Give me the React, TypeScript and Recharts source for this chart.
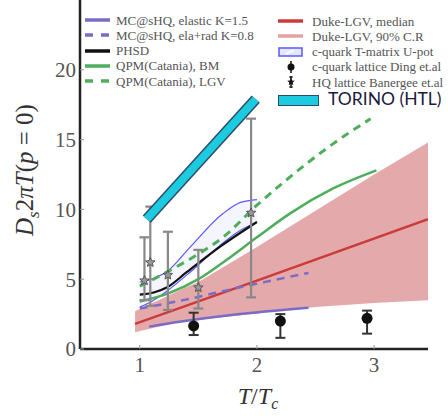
import React from 'react';
import { ComposedChart, Line, Area, Scatter, ErrorBar, XAxis, YAxis } from 'recharts';

// MC@sHQ
const elasticT = [1.08, 1.34, 1.8, 2.44];
const elasticD = [1.6, 1.95, 2.45, 2.95];
const radT = [1.0, 1.37, 1.9, 2.44];
const radD = [2.9, 3.5, 4.5, 5.45];

// PHSD
const phsdT = [1.0, 1.12, 1.23, 1.4, 1.68, 2.0];
const phsdD = [3.9, 4.05, 4.4, 5.5, 7.3, 9.1];

// QPM Catania
const bmT = [1.0, 1.25, 1.5, 1.71, 2.0, 2.28, 2.65, 3.02];
const bmD = [3.4, 4.0, 5.0, 6.2, 8.0, 9.7, 11.5, 12.8];
const lgvT = [1.0, 1.25, 1.5, 1.71, 2.0, 2.25, 2.6, 2.97];
const lgvD = [4.5, 5.6, 6.8, 8.0, 10.3, 12.1, 14.4, 16.5];

// Duke LGV
const dukeT = [0.96, 2.0, 3.46];
const dukeD = [1.8, 4.9, 9.3];
const dukeBandT = [0.96, 1.34, 1.5, 2.0, 2.5, 3.0, 3.46];
const dukeLow = [1.2, 1.95, 2.1, 2.55, 3.0, 3.3, 3.5];
const dukeHigh = [2.7, 4.2, 4.8, 7.3, 9.9, 12.5, 14.8];

// T-matrix U-pot
const tmT = [1.0, 1.1, 1.24, 1.43, 1.71, 1.86, 2.0];
const tmLow = [3.0, 3.4, 4.2, 5.5, 7.6, 8.5, 9.1];
const tmHigh = [4.8, 5.0, 5.6, 7.3, 9.7, 10.5, 10.7];

// TORINO (HTL)
const torinoT = [1.06, 1.99];
const torinoD = [9.3, 17.9];

// lattice Ding et al.
const dingT = [1.46, 2.2, 2.94];
const dingD = [1.65, 2.0, 2.2];
const dingLo = [1.0, 0.8, 1.1];
const dingHi = [2.6, 2.5, 2.75];

// lattice Banerjee et al.
const banT = [1.04, 1.09, 1.24, 1.5, 1.95];
const banD = [4.9, 6.2, 5.3, 4.4, 9.75];
const banLo = [3.5, 3.1, 2.8, 2.9, 3.7];
const banHi = [8.0, 10.2, 8.4, 7.1, 16.5];

const xTicks = [1, 2, 3];
const yTicks = [0, 5, 10, 15, 20];

const pts = (t: number[], d: number[]) => t.map((T, i) => ({ T, D: d[i] }));
const band = (t: number[], lo: number[], hi: number[]) => t.map((T, i) => ({ T, D: [lo[i], hi[i]] }));
const errPts = (t: number[], d: number[], lo: number[], hi: number[]) =>
  t.map((T, i) => ({ T, D: d[i], err: [d[i] - lo[i], hi[i] - d[i]] }));

const purple = '#7a6cc6';
const green = '#4fae5c';
const red = '#cc3b3b';
const pink = '#d98586';
const blue = '#5a5aff';

const starPath = (cx: number, cy: number, r: number) => {
  let p = '';
  for (let i = 0; i < 10; i++) {
    const a = -Math.PI / 2 + (i * Math.PI) / 5;
    const rr = i % 2 === 0 ? r : r * 0.45;
    p += (i === 0 ? 'M' : 'L') + (cx + rr * Math.cos(a)).toFixed(2) + ',' + (cy + rr * Math.sin(a)).toFixed(2);
  }
  return p + 'Z';
};

const tickStyle = { fill: '#555', fontSize: 21, fontFamily: 'Liberation Serif, serif' };

const legendText: React.CSSProperties = {
  position: 'absolute',
  fontFamily: 'Liberation Serif, serif',
  fontSize: 13,
  color: '#555',
  whiteSpace: 'nowrap',
  lineHeight: '13px',
};

function LegendSample({ kind, color }: { kind: string; color: string }) {
  return (
    <svg width={26} height={14} style={{ display: 'block' }}>
      {kind === 'solid' && <line x1={0} y1={7} x2={25} y2={7} stroke={color} strokeWidth={3.5} />}
      {kind === 'dash' && <line x1={0} y1={7} x2={25} y2={7} stroke={color} strokeWidth={3.5} strokeDasharray="8 8" />}
      {kind === 'box' && (
        <g>
          <rect x={1} y={3} width={23} height={8} fill="#e6e6ff" stroke={color} strokeWidth={1.5} />
          <line x1={8} y1={9} x2={16} y2={5} stroke="#fff" strokeWidth={1.5} />
        </g>
      )}
      {kind === 'dot' && (
        <g>
          <line x1={13} y1={1} x2={13} y2={13} stroke="#111" strokeWidth={1.5} />
          <circle cx={13} cy={7} r={3.5} fill="#111" />
        </g>
      )}
      {kind === 'star' && (
        <g>
          <line x1={13} y1={1} x2={13} y2={13} stroke="#111" strokeWidth={1.5} />
          <line x1={11} y1={2} x2={15} y2={2} stroke="#111" strokeWidth={1} />
          <line x1={11} y1={12} x2={15} y2={12} stroke="#111" strokeWidth={1} />
          <path d={starPath(13, 7, 4)} fill="#111" />
        </g>
      )}
    </svg>
  );
}

const leftLegend = [
  { label: 'MC@sHQ, elastic K=1.5', kind: 'solid', color: purple },
  { label: 'MC@sHQ, ela+rad K=0.8', kind: 'dash', color: purple },
  { label: 'PHSD', kind: 'solid', color: '#111' },
  { label: 'QPM(Catania), BM', kind: 'solid', color: green },
  { label: 'QPM(Catania), LGV', kind: 'dash', color: green },
];
const rightLegend = [
  { label: 'Duke-LGV, median', kind: 'solid', color: red },
  { label: 'Duke-LGV, 90% C.R', kind: 'solid', color: '#e3a3a3' },
  { label: 'c-quark T-matrix U-pot', kind: 'box', color: blue },
  { label: 'c-quark lattice Ding et.al', kind: 'dot', color: '#111' },
  { label: 'HQ lattice Banergee et.al', kind: 'star', color: '#111' },
];

export default function App() {
  return (
    <div style={{ position: 'absolute', left: 0, top: 0, width: 448, height: 416, background: '#fff', overflow: 'hidden' }}>
      <ComposedChart width={448} height={416} margin={{ top: 0, right: 20, bottom: 0, left: 0 }}>
        <XAxis
          type="number"
          dataKey="T"
          domain={[0.49, 3.46]}
          ticks={xTicks}
          allowDataOverflow
          height={67}
          axisLine={{ stroke: '#222', strokeWidth: 2.5 }}
          tickLine={{ stroke: '#999' }}
          tickSize={-4}
          tickMargin={12}
          tick={tickStyle}
        />
        <YAxis
          type="number"
          domain={[0, 25]}
          ticks={yTicks}
          allowDataOverflow
          width={80}
          axisLine={{ stroke: '#222', strokeWidth: 2.5 }}
          tickLine={{ stroke: '#999' }}
          tickSize={-4}
          tickMargin={8}
          tick={tickStyle}
        />
        <Area data={band(dukeBandT, dukeLow, dukeHigh)} dataKey="D" type="linear" fill={pink} fillOpacity={0.7} stroke="none" isAnimationActive={false} />
        <Line data={pts(dukeT, dukeD)} dataKey="D" type="linear" stroke={red} strokeWidth={2.5} dot={false} isAnimationActive={false} />
        <Area data={band(tmT, tmLow, tmHigh)} dataKey="D" type="monotone" fill="#d8d8ff" fillOpacity={0.25} stroke={blue} strokeWidth={1.2} isAnimationActive={false} />
        <Line data={pts(elasticT, elasticD)} dataKey="D" type="monotone" stroke={purple} strokeWidth={2.5} dot={false} isAnimationActive={false} />
        <Line data={pts(radT, radD)} dataKey="D" type="monotone" stroke={purple} strokeWidth={2.5} strokeDasharray="8 6" dot={false} isAnimationActive={false} />
        <Line data={pts(bmT, bmD)} dataKey="D" type="monotone" stroke={green} strokeWidth={2.5} dot={false} isAnimationActive={false} />
        <Line data={pts(lgvT, lgvD)} dataKey="D" type="monotone" stroke={green} strokeWidth={3} strokeDasharray="8 6" dot={false} isAnimationActive={false} />
        <Line data={pts(phsdT, phsdD)} dataKey="D" type="monotone" stroke="#111" strokeWidth={2.2} dot={false} isAnimationActive={false} />
        <Scatter
          data={errPts(banT, banD, banLo, banHi)}
          dataKey="D"
          isAnimationActive={false}
          shape={(p: any) => <path d={starPath(p.cx, p.cy, 5)} fill="#999" stroke="#444" strokeWidth={0.8} />}
        >
          <ErrorBar dataKey="err" direction="y" width={5} stroke="#888" strokeWidth={2.2} />
        </Scatter>
        <Scatter
          data={errPts(dingT, dingD, dingLo, dingHi)}
          dataKey="D"
          isAnimationActive={false}
          shape={(p: any) => <circle cx={p.cx} cy={p.cy} r={5.5} fill="#111" />}
        >
          <ErrorBar dataKey="err" direction="y" width={5} stroke="#333" strokeWidth={2} />
        </Scatter>
        <Line data={pts(torinoT, torinoD)} dataKey="D" type="linear" stroke="#2d4c6c" strokeWidth={11} dot={false} isAnimationActive={false} />
        <Line data={pts(torinoT, torinoD)} dataKey="D" type="linear" stroke="#1ccbe0" strokeWidth={8} dot={false} isAnimationActive={false} />
      </ComposedChart>

      {leftLegend.map((it, i) => (
        <div key={it.label}>
          <div style={{ position: 'absolute', left: 85, top: 13 + i * 15.3 }}>
            <LegendSample kind={it.kind} color={it.color} />
          </div>
          <div style={{ ...legendText, left: 116, top: 13.5 + i * 15.3 }}>{it.label}</div>
        </div>
      ))}
      {rightLegend.map((it, i) => (
        <div key={it.label}>
          <div style={{ position: 'absolute', left: 278, top: 14 + i * 15.3 }}>
            <LegendSample kind={it.kind} color={it.color} />
          </div>
          <div style={{ ...legendText, left: 312, top: 14.5 + i * 15.3 }}>{it.label}</div>
        </div>
      ))}
      <div style={{ position: 'absolute', left: 278, top: 95, width: 39, height: 9, background: '#1ccbe0', border: '1px solid #2d4c6c' }} />
      <div style={{ position: 'absolute', left: 328, top: 88, fontFamily: 'Lato, sans-serif', fontSize: 17.5, color: '#1b1b40', whiteSpace: 'nowrap' }}>
        TORINO (HTL)
      </div>

      <div
        style={{
          position: 'absolute',
          left: 27,
          top: 170,
          transform: 'translate(-50%, -50%) rotate(-90deg)',
          fontFamily: 'Liberation Serif, serif',
          fontSize: 25,
          color: '#333',
          whiteSpace: 'nowrap',
        }}
      >
        <i>D</i><sub style={{ fontSize: 17, fontStyle: 'italic' }}>s</sub>2<i>πT</i>(<i>p</i> = 0)
      </div>
      <div
        style={{
          position: 'absolute',
          left: 258,
          top: 398,
          transform: 'translate(-50%, -50%)',
          fontFamily: 'Liberation Serif, serif',
          fontSize: 24,
          color: '#333',
          whiteSpace: 'nowrap',
        }}
      >
        <i>T</i>/<i>T</i><sub style={{ fontSize: 16, fontStyle: 'italic' }}>c</sub>
      </div>
    </div>
  );
}
